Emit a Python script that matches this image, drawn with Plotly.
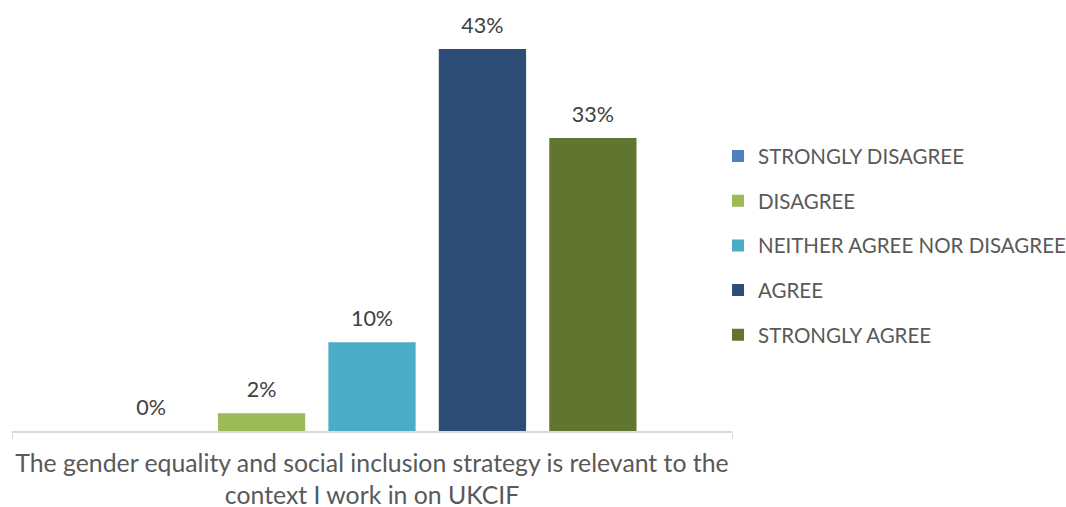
import plotly.graph_objects as go

# Survey responses for a single statement
category = ["The gender equality and social inclusion strategy is relevant to the<br>context I work in on UKCIF"]
responses = ["STRONGLY DISAGREE", "DISAGREE", "NEITHER AGREE NOR DISAGREE", "AGREE", "STRONGLY AGREE"]
shares = [0, 2, 10, 43, 33]
colors = ["#4F81BD", "#9BBB59", "#4BACC6", "#2C4D75", "#5F7530"]

FONT = "Lato, Open Sans, sans-serif"

fig = go.Figure()
for name, val, col in zip(responses, shares, colors):
    fig.add_trace(go.Bar(
        x=category,
        y=[val],
        name=name,
        legendgroup=name,
        offsetgroup=name,
        alignmentgroup="all",
        marker=dict(color=col, line=dict(width=0)),
    ))
    # value label sitting above each bar; the invisible marker sets the gap
    fig.add_trace(go.Scatter(
        x=category,
        y=[val],
        mode="markers+text",
        text=[f"{val}%"],
        textposition="top center",
        textfont=dict(family=FONT, size=21.5, color="#404040"),
        marker=dict(size=16, color="rgba(0,0,0,0)"),
        legendgroup=name,
        offsetgroup=name,
        alignmentgroup="all",
        showlegend=False,
        hoverinfo="skip",
        cliponaxis=False,
    ))

fig.update_layout(
    width=1066,
    height=507,
    margin=dict(l=12, r=334, t=10, b=76, autoexpand=False),
    paper_bgcolor="white",
    plot_bgcolor="white",
    barmode="group",
    scattermode="group",
    bargap=0.233,
    bargroupgap=0.21,
    showlegend=True,
    legend=dict(
        x=0.9806, xanchor="left", xref="paper",
        y=0.44, yanchor="middle",
        font=dict(family=FONT, size=20.5, color="#595959"),
        tracegroupgap=15,
        itemwidth=30,
        bgcolor="rgba(0,0,0,0)",
    ),
    xaxis=dict(
        range=[-0.5, 0.5],
        showline=True,
        linecolor="#D9D9D9",
        linewidth=1.5,
        ticks="outside",
        tickson="boundaries",
        ticklen=6,
        tickcolor="#D9D9D9",
        tickangle=0,
        tickfont=dict(family=FONT, size=24.8, color="#595959"),
        ticklabelstandoff=9,
        showgrid=False,
        zeroline=False,
    ),
    yaxis=dict(
        range=[0, 47.4],
        visible=False,
        showgrid=False,
        zeroline=False,
    ),
)

fig.write_html("out.html")
